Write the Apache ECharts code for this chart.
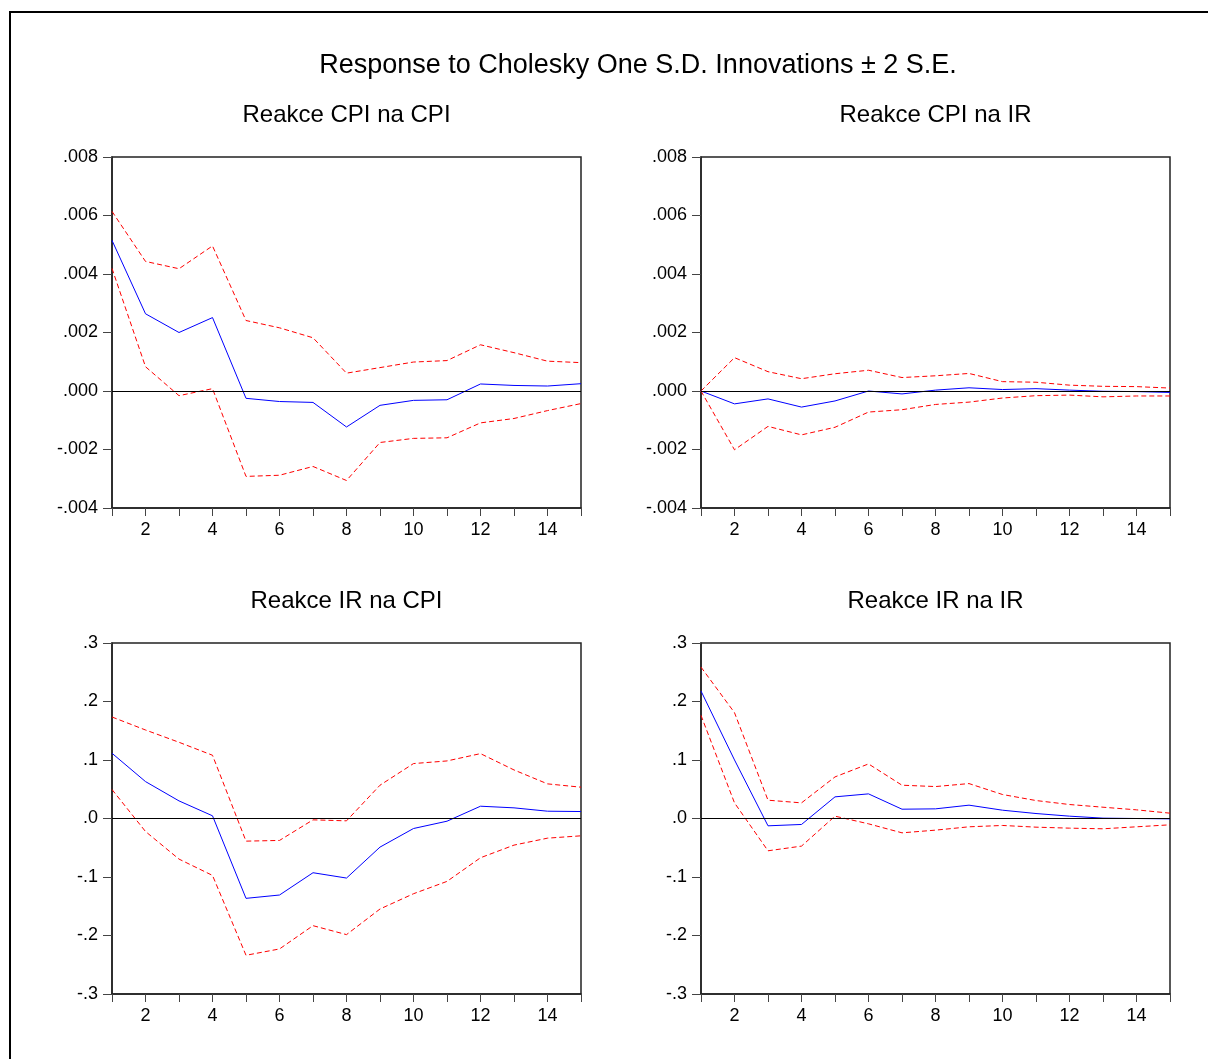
<!DOCTYPE html>
<html>
<head>
<meta charset="utf-8">
<title>Impulse responses</title>
<script src="https://cdn.jsdelivr.net/npm/echarts@6/dist/echarts.min.js"></script>
<style>
  html, body { margin: 0; padding: 0; background: #fff; }
  #chart { width: 1208px; height: 1059px; }
</style>
</head>
<body>
<div id="chart"></div>
<script>
// Horizon (periods after the shock)
const periods = ['1','2','3','4','5','6','7','8','9','10','11','12','13','14','15'];

// Response of CPI to CPI shock
const cpiCpi      = [0.00515, 0.00264, 0.00200, 0.00251, -0.00025, -0.00036, -0.00039, -0.00123, -0.00049, -0.00032, -0.00030, 0.00024, 0.00019, 0.00017, 0.00025];
const cpiCpiUpper = [0.00614, 0.00443, 0.00418, 0.00496, 0.00241, 0.00216, 0.00182, 0.00061, 0.00080, 0.00099, 0.00104, 0.00158, 0.00131, 0.00102, 0.00097];
const cpiCpiLower = [0.00419, 0.00083, -0.00016, 0.00008, -0.00292, -0.00288, -0.00258, -0.00306, -0.00176, -0.00162, -0.00160, -0.00109, -0.00094, -0.00067, -0.00043];

// Response of CPI to IR shock
const cpiIr      = [0.0, -0.00044, -0.00027, -0.00055, -0.00034, 0.0, -0.00010, 0.00003, 0.00011, 0.00005, 0.00008, 0.00003, -0.00001, -0.00002, -0.00005];
const cpiIrUpper = [0.0, 0.00114, 0.00066, 0.00042, 0.00059, 0.00071, 0.00046, 0.00052, 0.00060, 0.00032, 0.00030, 0.00020, 0.00016, 0.00015, 0.00010];
const cpiIrLower = [0.0, -0.00201, -0.00121, -0.00150, -0.00124, -0.00072, -0.00064, -0.00046, -0.00038, -0.00024, -0.00016, -0.00014, -0.00020, -0.00017, -0.00017];

// Response of IR to CPI shock
const irCpi      = [0.1115, 0.0631, 0.0301, 0.0046, -0.1365, -0.1308, -0.0927, -0.1018, -0.0489, -0.0171, -0.0046, 0.0210, 0.0182, 0.0125, 0.0119];
const irCpiUpper = [0.1735, 0.1513, 0.1303, 0.1081, -0.0387, -0.0375, -0.0023, -0.0040, 0.0569, 0.0939, 0.0984, 0.1109, 0.0830, 0.0592, 0.0535];
const irCpiLower = [0.0495, -0.0222, -0.0694, -0.0973, -0.2338, -0.2230, -0.1832, -0.1985, -0.1547, -0.1286, -0.1075, -0.0671, -0.0455, -0.0336, -0.0296];

// Response of IR to IR shock
const irIr      = [0.2179, 0.1001, -0.0125, -0.0102, 0.0370, 0.0421, 0.0159, 0.0165, 0.0228, 0.0142, 0.0085, 0.0040, 0.0006, 0.0000, -0.0006];
const irIrUpper = [0.2588, 0.1809, 0.0313, 0.0267, 0.0711, 0.0933, 0.0569, 0.0546, 0.0597, 0.0410, 0.0307, 0.0239, 0.0193, 0.0148, 0.0091];
const irIrLower = [0.1763, 0.0267, -0.0552, -0.0472, 0.0040, -0.0091, -0.0245, -0.0199, -0.0142, -0.0119, -0.0148, -0.0165, -0.0176, -0.0142, -0.0108];

// Axis ranges
const cpiAxis = { min: -0.004, max: 0.008, interval: 0.002, digits: 3 };
const irAxis  = { min: -0.3, max: 0.3, interval: 0.1, digits: 1 };

const mainTitle = 'Response to Cholesky One S.D. Innovations \u00b1 2 S.E.';

const panels = [
  { title: 'Reakce CPI na CPI', mid: cpiCpi, up: cpiCpiUpper, lo: cpiCpiLower, axis: cpiAxis, left: 112, top: 157 },
  { title: 'Reakce CPI na IR',  mid: cpiIr,  up: cpiIrUpper,  lo: cpiIrLower,  axis: cpiAxis, left: 701, top: 157 },
  { title: 'Reakce IR na CPI',  mid: irCpi,  up: irCpiUpper,  lo: irCpiLower,  axis: irAxis,  left: 112, top: 643 },
  { title: 'Reakce IR na IR',   mid: irIr,   up: irIrUpper,   lo: irIrLower,   axis: irAxis,  left: 701, top: 643 }
];

const FONT = 'Liberation Sans, Arial, Helvetica, sans-serif';
const PW = 469, PH = 351;

// EViews-style number labels: drop the leading zero (".004", "-.002")
function fmt(digits) {
  return function (v) {
    let s = Number(v).toFixed(digits);
    if (Math.abs(Number(s)) === 0) s = Number(0).toFixed(digits);
    return s.replace(/^(-?)0\./, '$1.');
  };
}

const grid = [], xAxis = [], yAxis = [], series = [], graphic = [];

// Outer frame of the figure
graphic.push({
  type: 'rect', silent: true,
  shape: { x: 10, y: 12, width: 1220, height: 1070 },
  style: { fill: 'none', stroke: '#000', lineWidth: 2 }
});
graphic.push({
  type: 'text', x: 638, y: 66, silent: true,
  style: { text: mainTitle, font: '27px ' + FONT, fill: '#000', textAlign: 'center', textVerticalAlign: 'middle' }
});

panels.forEach((p, i) => {
  grid.push({
    left: p.left, top: p.top, width: PW, height: PH,
    show: true, borderColor: '#222', borderWidth: 1.5, backgroundColor: '#fff'
  });
  graphic.push({
    type: 'text', x: p.left + PW / 2, y: p.top - 42, silent: true,
    style: { text: p.title, font: '24px ' + FONT, fill: '#000', textAlign: 'center', textVerticalAlign: 'middle' }
  });
  xAxis.push({
    type: 'category', gridIndex: i, data: periods, boundaryGap: false,
    axisLine: { show: true, onZero: false, lineStyle: { color: '#222', width: 1.5 } },
    axisTick: { show: true, inside: false, length: 8, interval: 0, lineStyle: { color: '#444', width: 1 } },
    axisLabel: {
      show: true, margin: 13, color: '#000', fontSize: 18, fontFamily: FONT,
      interval: function (idx) { return idx % 2 === 1; }
    },
    splitLine: { show: false }
  });
  yAxis.push({
    type: 'value', gridIndex: i,
    min: p.axis.min, max: p.axis.max, interval: p.axis.interval,
    axisLine: { show: true, onZero: false, lineStyle: { color: '#222', width: 1.5 } },
    axisTick: { show: true, inside: false, length: 9, lineStyle: { color: '#444', width: 1 } },
    axisLabel: { margin: 14, color: '#000', fontSize: 18, fontFamily: FONT, formatter: fmt(p.axis.digits) },
    splitLine: { show: false }
  });
  series.push({
    type: 'line', xAxisIndex: i, yAxisIndex: i, data: p.mid,
    symbol: 'none', lineStyle: { color: '#0000ff', width: 1 }, z: 4,
    markLine: {
      silent: true, symbol: 'none', label: { show: false },
      lineStyle: { color: '#000', width: 1, type: 'solid' },
      data: [{ yAxis: 0 }]
    }
  });
  series.push({
    type: 'line', xAxisIndex: i, yAxisIndex: i, data: p.up,
    symbol: 'none', lineStyle: { color: '#ff0000', width: 1, type: [5, 3] }, z: 3
  });
  series.push({
    type: 'line', xAxisIndex: i, yAxisIndex: i, data: p.lo,
    symbol: 'none', lineStyle: { color: '#ff0000', width: 1, type: [5, 3] }, z: 3
  });
});

const chart = echarts.init(document.getElementById('chart'), null, { renderer: 'canvas' });
chart.setOption({
  backgroundColor: '#fff',
  animation: false,
  grid: grid,
  xAxis: xAxis,
  yAxis: yAxis,
  series: series,
  graphic: graphic
});
</script>
</body>
</html>
